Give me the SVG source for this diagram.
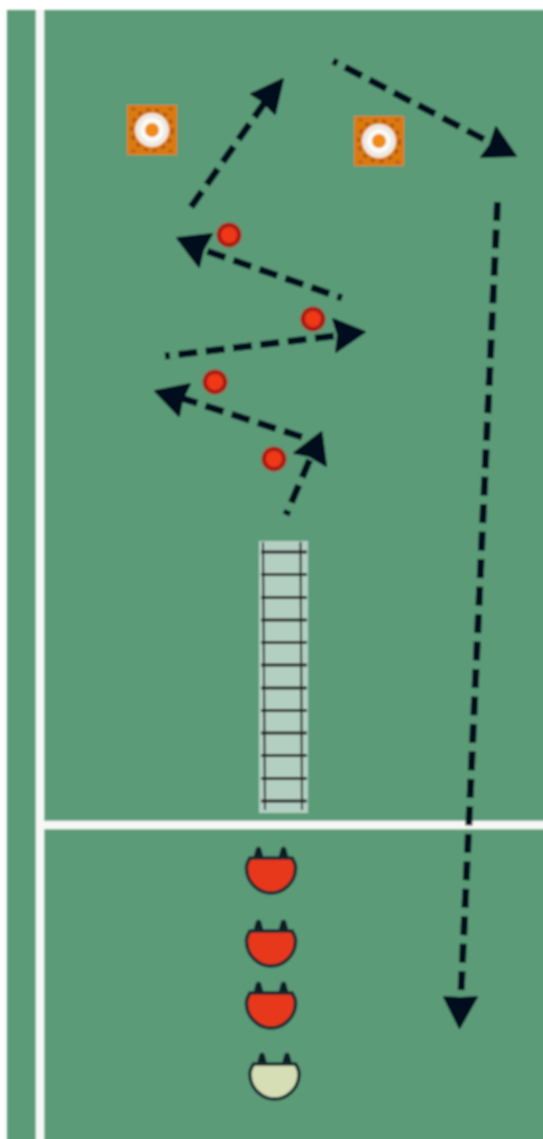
<svg xmlns="http://www.w3.org/2000/svg" width="543" height="1139" viewBox="0 0 543 1139">
<style>
.line{fill:none;stroke:#f6f8f5;stroke-width:8.500}
.dash{fill:none;stroke:#04101c;stroke-width:7;stroke-dasharray:19 8.500}
.dot{stroke-dashoffset:14}
.head{fill:#04101c;stroke:#04101c;stroke-width:2;stroke-linejoin:round}
.rung{stroke:#1c1f1c;stroke-width:3}
.rail{stroke:#1c1f1c;stroke-width:2}
.ear{fill:#0c1c26}
.dome{stroke:#14282e;stroke-width:3.500}
.rim{fill:#a81f18}
.core{fill:#ee3814}
</style>
<defs>
<filter id="soft" filterUnits="userSpaceOnUse" x="-20" y="-20" width="600" height="1200"><feGaussianBlur stdDeviation="0.9"/></filter>
<g id="target">
<rect x="-25" y="-25" width="50" height="50" fill="#dd7a10"/>
<circle r="20.500" fill="none" stroke="#a9581a" stroke-width="3" stroke-dasharray="4.500 4.500"/>
<path d="M-21 -21h5M16 -21h5M-21 21h5M16 21h5" stroke="#b5651a" stroke-width="3"/>
<circle r="17" fill="#eee8e0"/>
<circle r="12" fill="#fafaf6"/>
<circle r="7" fill="#ee8c14"/>
</g>
<g id="player">
<path class="ear" d="M-18 -18 L-15 -29 Q-12.500 -32 -10 -29 L-7 -18Z M7 -18 L10 -29 Q12.500 -32 15 -29 L18 -18Z"/>
<path class="dome" d="M-21 -19 H21 C24 -14 25 -11 24.500 -8 C24 6 12 16 0 16 C-12 16 -24 6 -24.500 -8 C-25 -11 -24 -14 -21 -19Z"/>
</g>
<g id="marker">
<circle class="rim" r="12.500"/>
<circle class="core" r="8"/>
</g>
</defs>
<g filter="url(#soft)">
<rect id="field" x="7" y="10" width="560" height="1160" fill="#5b9b78"/>
<g id="markings">
<path class="line" d="M40 10V1170"/>
<path class="line" d="M40 825H570"/>
</g>
<g id="ladder">
<rect x="259" y="541" width="49" height="272" fill="#b3cfc2"/>
<path class="rail" d="M263 542L265 810M300.500 542L302 810"/>
<path class="rung" d="M261 552H307M261 574.500H307M261 597.500H307M261 620H307M261 642.500H307M261 665H307M261 688H307M261 710.500H307M261 733H307M261 755.500H307M261 778.500H307M261 801H307"/>
</g>
<g id="connectors">
<path class="dash" d="M191 207L270 95"/>
<path class="head" d="M283 79L251 94L262 101L275 114Z"/>
<path class="dash dot" d="M333 61L495 145"/>
<path class="head" d="M516 156L496 127L490 145L481 157Z"/>
<path class="dash" d="M497.500 202L460.500 1005"/>
<path class="head" d="M459.500 1028L477 997L460.500 998L444 997Z"/>
<path class="dash dot" d="M342 298L195 247"/>
<path class="head" d="M177 238L212 234L203 250L199 267Z"/>
<path class="dash dot" d="M165 356L350 334"/>
<path class="head" d="M365 332L333 319L338 335L336 352Z"/>
<path class="dash" d="M302 437L175 396"/>
<path class="head" d="M155 391L190 384L182 400L179 416Z"/>
<path class="dash dot" d="M286 515L316 445"/>
<path class="head" d="M321.500 432L294 453L309 456L326 466Z"/>
</g>
<g id="target-1"><use href="#target" x="152" y="130"/></g>
<g id="target-2"><use href="#target" x="379" y="141"/></g>
<g id="marker-1"><use href="#marker" x="229" y="235"/></g>
<g id="marker-2"><use href="#marker" x="313" y="319"/></g>
<g id="marker-3"><use href="#marker" x="215" y="382"/></g>
<g id="marker-4"><use href="#marker" x="274" y="459"/></g>
<g id="player-1"><use href="#player" x="271" y="877" fill="#e8371f"/></g>
<g id="player-2"><use href="#player" x="271" y="950" fill="#e8371f"/></g>
<g id="player-3"><use href="#player" x="271" y="1012" fill="#e8371f"/></g>
<g id="player-4"><use href="#player" x="274.500" y="1083" fill="#d5deb4"/></g>
</g>
</svg>
